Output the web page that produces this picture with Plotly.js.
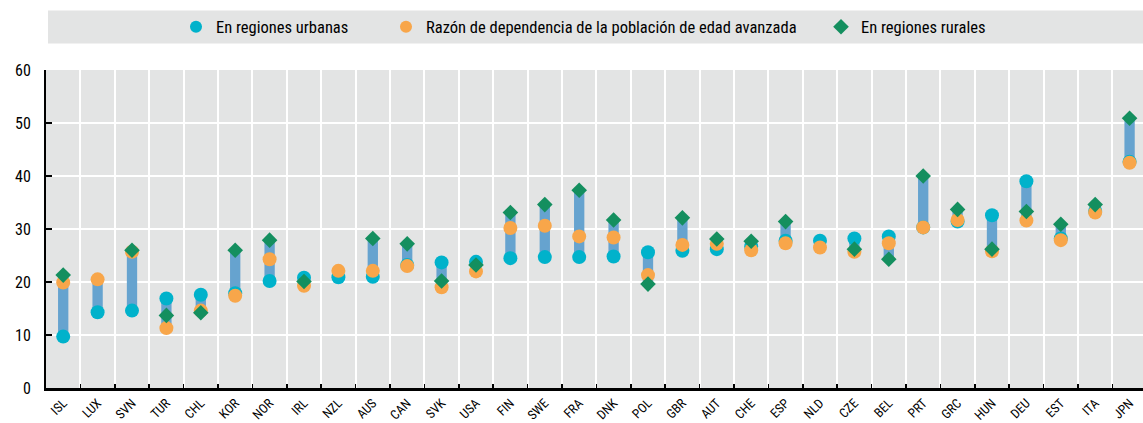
<!DOCTYPE html>
<html><head><meta charset="utf-8">
<script src="https://cdn.plot.ly/plotly-3.0.1.min.js"></script>
<style>body{margin:0;padding:0;background:#fff}#chart{width:1143px;height:423px}</style>
</head><body><div id="chart"></div>
<script>
var countries = ["ISL","LUX","SVN","TUR","CHL","KOR","NOR","IRL","NZL","AUS","CAN","SVK","USA","FIN","SWE","FRA","DNK","POL","GBR","AUT","CHE","ESP","NLD","CZE","BEL","PRT","GRC","HUN","DEU","EST","ITA","JPN"];
var urban = [9.7,14.3,14.6,16.9,17.6,17.9,20.2,20.8,20.9,21.0,23.2,23.7,23.8,24.5,24.7,24.7,24.8,25.6,25.9,26.2,26.7,27.8,27.8,28.2,28.6,30.3,31.4,32.6,39.0,28.2,33.4,42.7];
var national = [19.9,20.5,25.7,11.3,14.6,17.4,24.3,19.3,22.1,22.1,23.0,19.0,22.0,30.2,30.6,28.6,28.4,21.3,27.0,27.2,26.0,27.3,26.5,25.7,27.3,30.3,31.7,25.8,31.6,27.9,33.1,42.5];
var rural = [21.3,null,26.0,13.7,14.2,26.0,27.9,20.1,null,28.2,27.2,20.2,23.2,33.1,34.6,37.3,31.7,19.6,32.1,28.1,27.7,31.4,null,26.2,24.3,40.0,33.7,26.2,33.3,30.9,34.6,50.9];
var legendNames = ["En regiones urbanas","Razón de dependencia de la población de edad avanzada","En regiones rurales"];

var lo = [], span = [];
for (var i = 0; i < countries.length; i++) {
  var vals = [urban[i], national[i], rural[i]].filter(function(v){return v !== null;});
  var mn = Math.min.apply(null, vals), mx = Math.max.apply(null, vals);
  lo.push(mn); span.push(mx - mn);
}

var FONT = "Liberation Sans Narrow, Arial Narrow, Roboto Condensed, sans-serif";
var traces = [
  {type:"bar", x:countries, y:span, base:lo, width:0.3, marker:{color:"#66A3CF"}, showlegend:false, hoverinfo:"skip"},
  {type:"scatter", mode:"markers", name:legendNames[0], x:countries, y:urban, marker:{color:"#00B2CB", size:14, symbol:"circle"}, legend:"legend"},
  {type:"scatter", mode:"markers", name:legendNames[1], x:countries, y:national, marker:{color:"#F8A64A", size:14, symbol:"circle"}, legend:"legend2"},
  {type:"scatter", mode:"markers", name:legendNames[2], x:countries, y:rural, marker:{color:"#148F5F", size:12, symbol:"diamond"}, legend:"legend3"}
];
var W = 1097, H = 318.5, L = 46, B = 388;
function px2x(p){ return (p - L) / W; }
function px2y(p){ return (B - p) / H; }
function leg(xpx){
  return {orientation:"h", x:px2x(xpx), xanchor:"left", y:px2y(26.5), yanchor:"middle", bgcolor:"rgba(0,0,0,0)",
    font:{family:FONT, size:16.5, color:"#000"}, itemsizing:"constant"};
}
var layout = {
  width:1143, height:423,
  margin:{l:L, r:0, t:69.5, b:35},
  paper_bgcolor:"#FFFFFF", plot_bgcolor:"#E3E4E4",
  font:{family:FONT, size:14, color:"#000"},
  barmode:"overlay",
  showlegend:true,
  legend:leg(176), legend2:leg(386), legend3:leg(821),
  shapes:[{type:"rect", xref:"paper", yref:"paper", x0:px2x(48), x1:1.01, y0:px2y(43), y1:px2y(10), fillcolor:"#E3E4E4", line:{width:0}, layer:"below"}],
  xaxis:{type:"category", range:[-0.5, 31.39], tickson:"boundaries", ticks:"inside", ticklen:4, tickcolor:"#000", tickwidth:1.5,
    showgrid:true, gridcolor:"#FFFFFF", gridwidth:2, showline:true, linecolor:"#000", linewidth:2.5,
    tickangle:-45, automargin:false, tickfont:{family:FONT, size:13, color:"#000"}, fixedrange:true},
  yaxis:{range:[0,60], dtick:10, ticks:"inside", ticklen:6, tickcolor:"#000", tickwidth:1.5, showgrid:true, gridcolor:"#FFFFFF", gridwidth:2,
    showline:true, linecolor:"#000", linewidth:2, zeroline:false, ticklabelstandoff:10, tickfont:{family:FONT, size:16, color:"#000"}, fixedrange:true}
};
Plotly.newPlot("chart", traces, layout, {displayModeBar:false, staticPlot:true});
</script></body></html>
